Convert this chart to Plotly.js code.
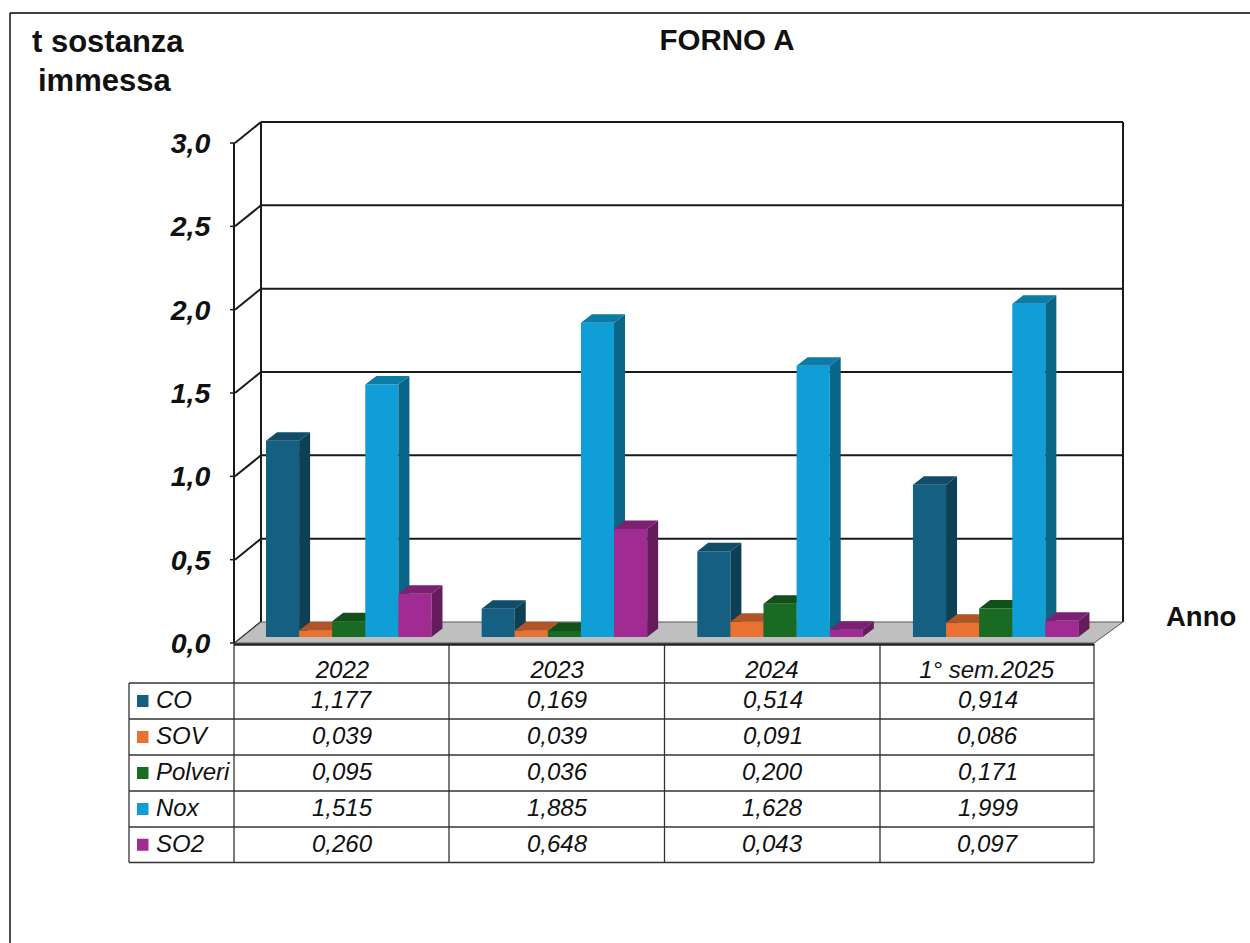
<!DOCTYPE html>
<html><head><meta charset="utf-8">
<script src="https://cdn.plot.ly/plotly-3.0.1.min.js"></script>
<style>html,body{margin:0;padding:0;background:#fff}#c{width:1250px;height:943px}</style>
</head><body><div id="c"></div>
<script>
const categories = ['2022','2023','2024','1° sem.2025'];
const seriesNames = ['CO','SOV','Polveri','Nox','SO2'];
const CO = [1.177,0.169,0.514,0.914];
const SOV = [0.039,0.039,0.091,0.086];
const Polveri = [0.095,0.036,0.200,0.171];
const Nox = [1.515,1.885,1.628,1.999];
const SO2 = [0.260,0.648,0.043,0.097];
const yTicks = [0,0.5,1,1.5,2,2.5,3];
const seriesValues = [CO,SOV,Polveri,Nox,SO2];
const frontColors = ['#156082','#E97132','#196B24','#0F9ED5','#A02B93'];
const topColors = ['#114D68','#B05528','#12501B','#0C7BA6','#7B2171'];
const sideColors = ['#0D3F55','#8F4520','#0E4016','#0A6688','#651B5C'];

// plot frame in page pixels
const L=235,R=1094,T=143,B=643;
const pxX=(R-L)/4, pxY=(B-T)/3;
const ux=p=>p/pxX, uy=p=>p/pxY;
const px=p=>(p-L)/(R-L), py=p=>(B-p)/(B-T);   // page px -> paper
const xP=u=>u/4, yP=v=>v/3;                   // data -> paper, so the wall may leave the plot box
const fmt=(v,d)=>v.toFixed(d).replace('.',',');

const wallDx=ux(26), wallDy=uy(21), wallDxR=ux(29);
const barW=ux(33.1), barGap=ux(31), barLift=uy(6), depthX=ux(11), depthY=uy(8.5), groupStep=1+ux(0.9);

const traces=[];
seriesValues.forEach((vals,s)=>{
  const n=s===0?'':String(s+1);
  const xa='x'+n, ya='y'+n;
  const lefts=vals.map((v,i)=>i*groupStep+barGap+s*barW);
  traces.push({type:'bar',name:seriesNames[s],x:lefts.map(l=>l+barW/2),y:vals,base:vals.map(()=>barLift),
    width:barW,marker:{color:frontColors[s],line:{width:0}},xaxis:xa,yaxis:ya,showlegend:false,hoverinfo:'name+y'});
  const sx=[],sy=[],tx=[],ty=[];
  vals.forEach((v,i)=>{
    const l=lefts[i],r=l+barW,b=barLift,t=barLift+v;
    sx.push(r,r+depthX,r+depthX,r,r,null); sy.push(b,b+depthY,t+depthY,t,b,null);
    tx.push(l,l+depthX,r+depthX,r,l,null); ty.push(t,t+depthY,t+depthY,t,t,null);
  });
  traces.push({type:'scatter',mode:'lines',x:sx,y:sy,fill:'toself',fillcolor:sideColors[s],line:{width:0},xaxis:xa,yaxis:ya,showlegend:false,hoverinfo:'skip',cliponaxis:false});
  traces.push({type:'scatter',mode:'lines',x:tx,y:ty,fill:'toself',fillcolor:topColors[s],line:{width:0},xaxis:xa,yaxis:ya,showlegend:false,hoverinfo:'skip',cliponaxis:false});
});

const shapes=[];
const wallLine={color:'#1a1a1a',width:2};
const seg=(x0,y0,x1,y1,line)=>shapes.push({type:'line',layer:'below',xref:'paper',yref:'paper',x0:xP(x0),x1:xP(x1),y0:yP(y0),y1:yP(y1),line});
// back wall gridlines and diagonal links
yTicks.forEach(t=>{
  if(t>0) seg(wallDx,t+wallDy,4+wallDxR,t+wallDy,wallLine);
  seg(0,t,wallDx,t+wallDy,wallLine);
  seg(-ux(5),t,0,t,{color:'#1a1a1a',width:1.5});
});
seg(wallDx,wallDy,wallDx,3+wallDy,wallLine);
seg(4+wallDxR,wallDy,4+wallDxR,3+wallDy,wallLine);
// floor
shapes.push({type:'path',layer:'below',xref:'paper',yref:'paper',
  path:`M ${xP(0)} ${yP(0)} L ${xP(wallDx)} ${yP(wallDy)} L ${xP(4+wallDxR)} ${yP(wallDy)} L ${xP(4)} ${yP(0)} Z`,fillcolor:'#BFBFBF',line:{color:'#555',width:1}});

// table rules (page pixels converted to paper)
const colX=[234,449,664.5,880,1094], rowY=[683,719,755,791,827,862.5];
const tbl={color:'#333',width:1.3};
const hline=(x0,x1,y,line)=>shapes.push({type:'line',xref:'paper',yref:'paper',x0:px(x0),x1:px(x1),y0:py(y),y1:py(y),line});
const vline=(x,y0,y1,line)=>shapes.push({type:'line',xref:'paper',yref:'paper',x0:px(x),x1:px(x),y0:py(y0),y1:py(y1),line});
rowY.forEach(y=>hline(129,1094,y,tbl));
colX.forEach(x=>vline(x,644,862.5,tbl));
vline(129,683,862.5,tbl);
hline(234,1094,644.5,{color:'#222',width:2.5});
// outer frame
hline(10,1250,13,{color:'#000',width:1.6});
vline(10,13,943,{color:'#222',width:1.6});

const annotations=[];
const rowMid=i=>(rowY[i]+rowY[i+1])/2;
const colMid=j=>(colX[j]+colX[j+1])/2;
const cellFont={family:'Liberation Sans, Arial, sans-serif',size:24,color:'#111',style:'italic'};
seriesNames.forEach((name,s)=>{
  const m=rowMid(s);
  shapes.push({type:'rect',xref:'paper',yref:'paper',x0:px(137),x1:px(148.5),y0:py(m-6),y1:py(m+6),fillcolor:frontColors[s],line:{width:0}});
  annotations.push({xref:'paper',yref:'paper',x:px(153.5),y:py(m-1.5),xanchor:'left',yanchor:'middle',showarrow:false,text:name,font:cellFont});
  seriesValues[s].forEach((v,j)=>annotations.push({xref:'paper',yref:'paper',x:px(colMid(j)+0.5),y:py(m-1.5),xanchor:'center',yanchor:'middle',showarrow:false,text:fmt(v,3),font:cellFont}));
});
const boldFont={family:'Liberation Sans, Arial, sans-serif',size:31,color:'#111',weight:'bold'};
annotations.push({xref:'paper',yref:'paper',x:px(108),y:py(41),xanchor:'center',yanchor:'middle',showarrow:false,text:'t sostanza',font:boldFont});
annotations.push({xref:'paper',yref:'paper',x:px(104.5),y:py(81),xanchor:'center',yanchor:'middle',showarrow:false,text:'immessa',font:boldFont});
annotations.push({xref:'paper',yref:'paper',x:px(1200.5),y:py(616),xanchor:'center',yanchor:'middle',showarrow:false,text:'Anno',font:{...boldFont,size:27.5}});

const layout={
  width:1250,height:943,autosize:false,paper_bgcolor:'#fff',plot_bgcolor:'rgba(0,0,0,0)',
  margin:{l:L,r:1250-R,t:T,b:943-B,pad:0},showlegend:false,barmode:'overlay',
  title:{text:'FORNO A',x:727/1250,xref:'container',xanchor:'center',y:1-40/943,yref:'container',yanchor:'middle',
    font:{family:'Liberation Sans, Arial, sans-serif',size:29.5,color:'#111',weight:'bold'}},
  xaxis:{range:[0,4],tickmode:'array',tickvals:categories.map((c,i)=>i+0.5),ticktext:categories,showgrid:false,zeroline:false,
    showline:false,ticks:'',ticklabelstandoff:10,tickangle:0,fixedrange:true,
    tickfont:{family:'Liberation Sans, Arial, sans-serif',size:24,color:'#111',style:'italic'}},
  yaxis:{range:[0,3],tickmode:'array',tickvals:yTicks,ticktext:yTicks.map(t=>fmt(t,1)),showgrid:false,zeroline:false,
    showline:true,linecolor:'#1a1a1a',linewidth:2,ticks:'',ticklabelstandoff:17,fixedrange:true,
    tickfont:{family:'Liberation Sans, Arial, sans-serif',size:28.5,color:'#111',weight:'bold',style:'italic'}},
  shapes,annotations
};
[2,3,4,5].forEach(n=>{
  layout['xaxis'+n]={range:[0,4],overlaying:'x',visible:false,fixedrange:true};
  layout['yaxis'+n]={range:[0,3],overlaying:'y',visible:false,fixedrange:true};
});
Plotly.newPlot('c',traces,layout,{displayModeBar:false,staticPlot:true});
</script></body></html>
